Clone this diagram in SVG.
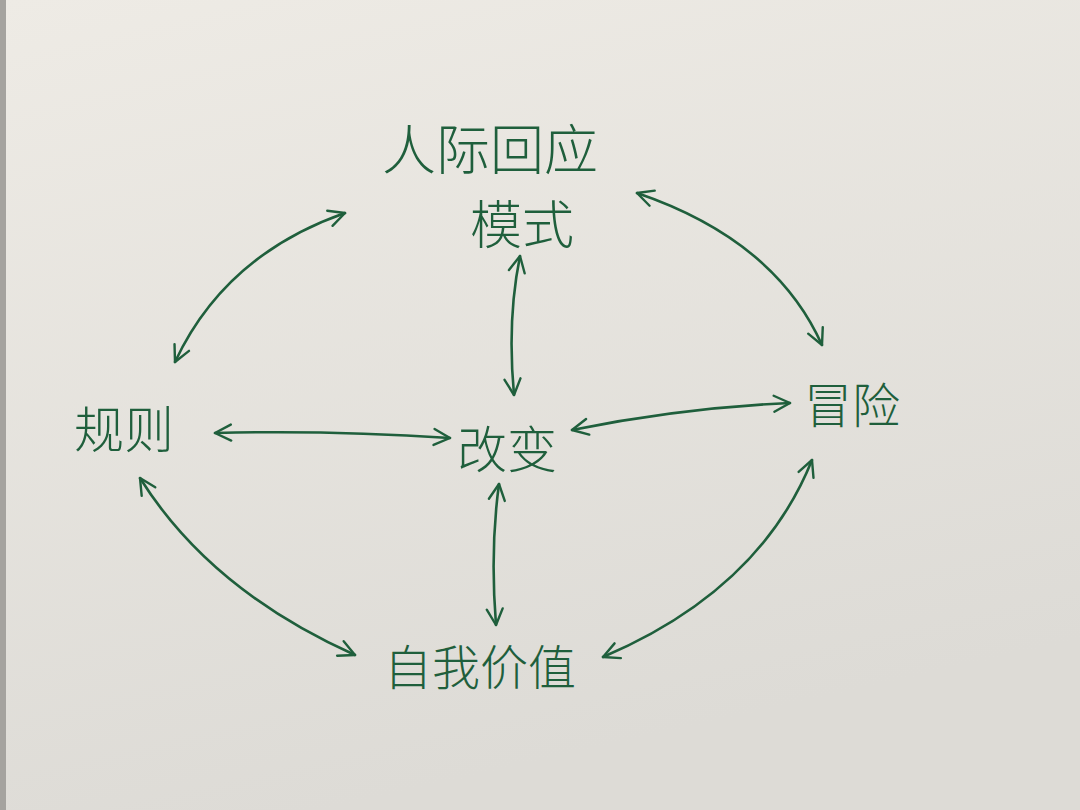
<svg xmlns="http://www.w3.org/2000/svg" width="1080" height="810" viewBox="0 0 1080 810">
<defs>
<linearGradient id="paper" x1="0" y1="0" x2="0.3" y2="1">
<stop offset="0" stop-color="#eeebe5"/>
<stop offset="1" stop-color="#dddbd6"/>
</linearGradient>
<marker id="ah" viewBox="0 0 20 20" refX="18" refY="10" markerWidth="20" markerHeight="20" markerUnits="userSpaceOnUse" orient="auto-start-reverse">
<path d="M2,2 L18,10 L2,18" fill="none" stroke="#1f5f3c" stroke-width="2.4" stroke-linecap="round" stroke-linejoin="round"/>
</marker>
<style>
.lbl{font-family:"Noto Sans CJK SC","Noto Sans CJK TC",sans-serif;fill:#1f5f3c;font-weight:300}
.con{fill:none;stroke:#1f5f3c;stroke-width:2.6;stroke-linecap:round;marker-start:url(#ah);marker-end:url(#ah)}
</style>
</defs>
<rect width="1080" height="810" fill="url(#paper)"/>
<rect x="0" y="0" width="6" height="810" fill="#a5a39f"/>
<g id="connectors">
<path class="con" d="M175,362 Q225,255 345,213"/>
<path class="con" d="M637,193 Q775,240 822,345"/>
<path class="con" d="M520,256 Q507,320 514,395"/>
<path class="con" d="M215,433 Q330,430 450,438"/>
<path class="con" d="M572,430 Q680,408 790,403"/>
<path class="con" d="M499,484 Q490,550 496,625"/>
<path class="con" d="M140,478 Q210,590 355,655"/>
<path class="con" d="M603,657 Q760,590 812,460"/>
</g>
<g id="node-top">
<text class="lbl" x="490" y="170" font-size="54" text-anchor="middle">人际回应</text>
<text class="lbl" x="522" y="244" font-size="52" text-anchor="middle">模式</text>
</g>
<g id="node-left">
<text class="lbl" x="124" y="448" font-size="50" text-anchor="middle">规则</text>
</g>
<g id="node-center">
<text class="lbl" x="507" y="468" font-size="50" text-anchor="middle">改变</text>
</g>
<g id="node-right">
<text class="lbl" x="852" y="423" font-size="48" text-anchor="middle">冒险</text>
</g>
<g id="node-bottom">
<text class="lbl" x="480" y="685" font-size="48" text-anchor="middle">自我价值</text>
</g>
</svg>
